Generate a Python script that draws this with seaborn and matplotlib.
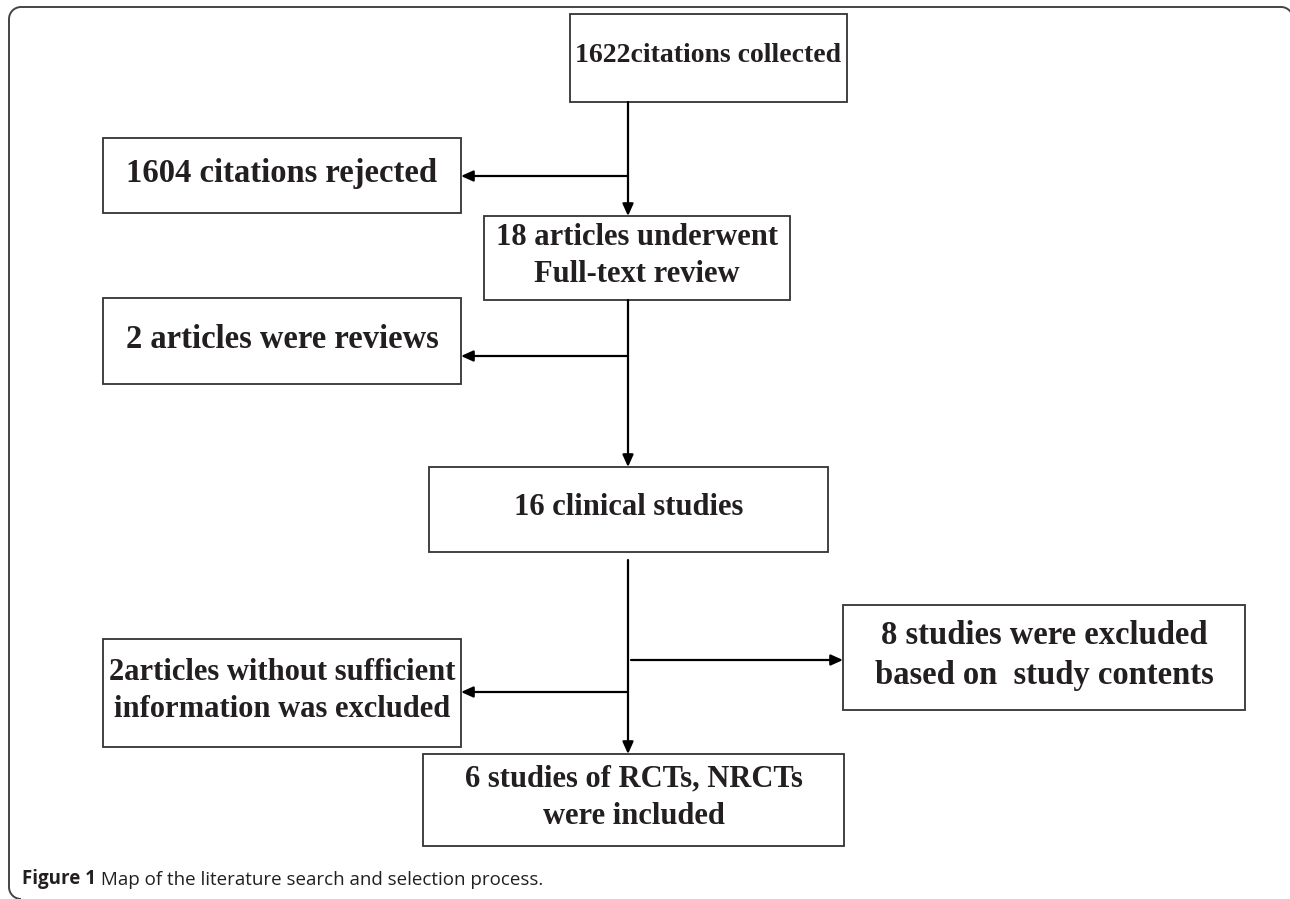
import matplotlib
matplotlib.use("Agg")
import matplotlib.pyplot as plt
import seaborn as sns
from matplotlib.patches import Rectangle, Arc

sns.set_theme(style="white")
plt.rcParams['font.family'] = ['Liberation Serif', 'DejaVu Serif']

# box texts of the flow chart
labels = [
    '1622citations collected',
    '1604 citations rejected',
    '18 articles underwent\nFull-text review',
    '2 articles were reviews',
    '16 clinical studies',
    '2articles without sufficient\ninformation was excluded',
    '8 studies were excluded\nbased on  study contents',
    '6 studies of RCTs, NRCTs\nwere included',
]
caption_bold = 'Figure 1'
caption_rest = ' Map of the literature search and selection process.'

# layout in pixels: x0, y0, x1, y1 (y grows downward), font size
boxes = [
    (570, 14, 847, 102, 20),
    (103, 138, 461, 213, 23.5),
    (484, 216, 790, 300, 22),
    (103, 298, 461, 384, 23.5),
    (429, 467, 828, 552, 22),
    (103, 639, 461, 747, 22),
    (843, 605, 1245, 710, 23.5),
    (423, 754, 844, 846, 22),
]
xc = 628
# arrows: start, end
arrows = [
    ((xc, 102), (xc, 216)),
    ((xc, 176), (461, 176)),
    ((xc, 300), (xc, 467)),
    ((xc, 356), (461, 356)),
    ((xc, 560), (xc, 754)),
    ((xc, 692), (461, 692)),
    ((631, 660), (843, 660)),
]

fig = plt.figure(figsize=(12.9, 8.99), dpi=100)
ax = fig.add_axes([0, 0, 1, 1])
ax.set_xlim(0, 1290)
ax.set_ylim(899, 0)
ax.axis('off')

# outer frame: top and left edges with rounded corners, rest runs off the picture
fc, flw, r = '#444444', 1.4, 12
ax.plot([9 + r, 1293 - r], [7, 7], color=fc, lw=flw, solid_capstyle='butt')
ax.plot([9, 9], [7 + r, 899 - r], color=fc, lw=flw, solid_capstyle='butt')
ax.add_patch(Arc((9 + r, 7 + r), 2 * r, 2 * r, theta1=180, theta2=270, color=fc, lw=flw))
ax.add_patch(Arc((1293 - r, 7 + r), 2 * r, 2 * r, theta1=270, theta2=360, color=fc, lw=flw))
ax.add_patch(Arc((9 + r, 899 - r), 2 * r, 2 * r, theta1=90, theta2=180, color=fc, lw=flw))

for (x0, y0, x1, y1, fs), lab in zip(boxes, labels):
    ax.add_patch(Rectangle((x0, y0), x1 - x0, y1 - y0, fill=False,
                           ec='#333333', lw=1.3))
    ax.text((x0 + x1) / 2, (y0 + y1) / 2 - 2, lab, ha='center', va='center',
            fontsize=fs, fontweight='bold', color='#231f20', linespacing=1.38)

for s, e in arrows:
    ax.annotate('', xy=e, xytext=s,
                arrowprops=dict(arrowstyle='-|>,head_length=0.4,head_width=0.18',
                                mutation_scale=18, color='black', lw=1.6,
                                shrinkA=0, shrinkB=0))

t1 = ax.text(22, 884, caption_bold, ha='left', va='baseline', fontsize=13.5,
             fontweight='bold', family=['Open Sans', 'DejaVu Sans'], color='#231f20')
ax.annotate(caption_rest, xy=(1, 0), xycoords=t1, ha='left', va='bottom',
            fontsize=13.5, family=['Open Sans', 'DejaVu Sans'], color='#231f20')

fig.savefig('out.png', dpi=100)
